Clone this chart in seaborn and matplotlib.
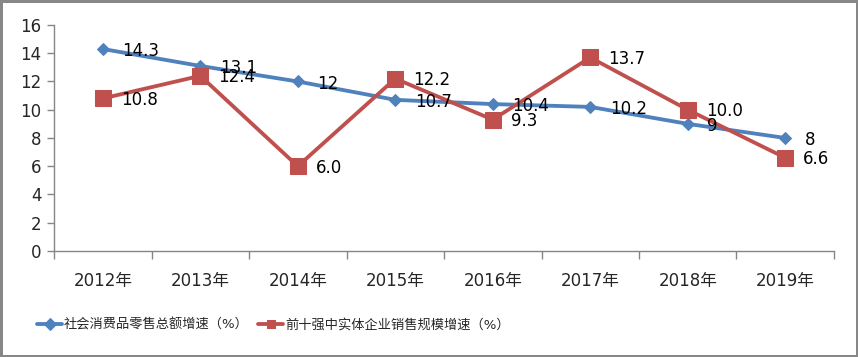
import matplotlib
matplotlib.use("Agg")
import matplotlib.pyplot as plt
import seaborn as sns
import pandas as pd
import numpy as np

years = ["2012年", "2013年", "2014年", "2015年", "2016年", "2017年", "2018年", "2019年"]
retail_growth = [14.3, 13.1, 12, 10.7, 10.4, 10.2, 9, 8]
retail_labels = ["14.3", "13.1", "12", "10.7", "10.4", "10.2", "9", "8"]
top10_growth = [10.8, 12.4, 6.0, 12.2, 9.3, 13.7, 10.0, 6.6]
top10_labels = ["10.8", "12.4", "6.0", "12.2", "9.3", "13.7", "10.0", "6.6"]
series1 = "社会消费品零售总额增速（%）"
series2 = "前十强中实体企业销售规模增速（%）"

sns.set_theme(style="white")
FAM = ["DejaVu Sans", "Noto Sans CJK SC"]
plt.rcParams["font.family"] = FAM

blue = "#4F81BD"
red = "#C0504D"

df1 = pd.DataFrame({"year": years, "value": retail_growth})
df2 = pd.DataFrame({"year": years, "value": top10_growth})

fig = plt.figure(figsize=(8.58, 3.57), dpi=100, facecolor="white",
                 edgecolor="#878787", linewidth=2.5)
ax = fig.add_axes([0.063, 0.297, 0.909, 0.633])

sns.lineplot(data=df1, x="year", y="value", ax=ax, color=blue, lw=2.75,
             marker="D", markersize=6.5, markeredgecolor=blue, label=series1, sort=False)
sns.lineplot(data=df2, x="year", y="value", ax=ax, color=red, lw=2.75,
             marker="s", markersize=11.5, markeredgecolor=red, label=series2, sort=False)

for i, t in enumerate(retail_labels):
    ax.annotate(t, (i, retail_growth[i]), xytext=(14, -1.5), textcoords="offset points",
                ha="left", va="center", fontsize=12, color="black")
for i, t in enumerate(top10_labels):
    ax.annotate(t, (i, top10_growth[i]), xytext=(13, -1), textcoords="offset points",
                ha="left", va="center", fontsize=12, color="black")

ax.set_xlim(-0.5, 7.5)
ax.set_ylim(0, 16)
ax.set_yticks(np.arange(0, 17, 2))
ax.set_xticks(range(len(years)))
ax.set_xticklabels(years)
ax.set_xticks(np.arange(-0.5, 8, 1), minor=True)
ax.tick_params(axis="x", which="major", length=0, pad=15, labelsize=12)
ax.tick_params(axis="x", which="minor", length=6, width=1, color="#868686", direction="out", bottom=True)
ax.tick_params(axis="y", length=5, width=1, color="#868686", direction="out", left=True, labelsize=12, pad=4)
ax.set_xlabel("")
ax.set_ylabel("")
for s in ["top", "right"]:
    ax.spines[s].set_visible(False)
for s in ["left", "bottom"]:
    ax.spines[s].set_color("#868686")
    ax.spines[s].set_linewidth(1)

leg = ax.legend(loc="center left", bbox_to_anchor=(37 / 858, 1 - 325 / 357),
                bbox_transform=fig.transFigure, ncol=2, frameon=False,
                fontsize=9.5, handlelength=1.9, handletextpad=0.15, columnspacing=0.7,
                borderpad=0, borderaxespad=0)
for h in leg.legend_handles:
    h.set_markersize(6)

fig.savefig("out.png", dpi=100, facecolor="white", edgecolor=fig.get_edgecolor())
